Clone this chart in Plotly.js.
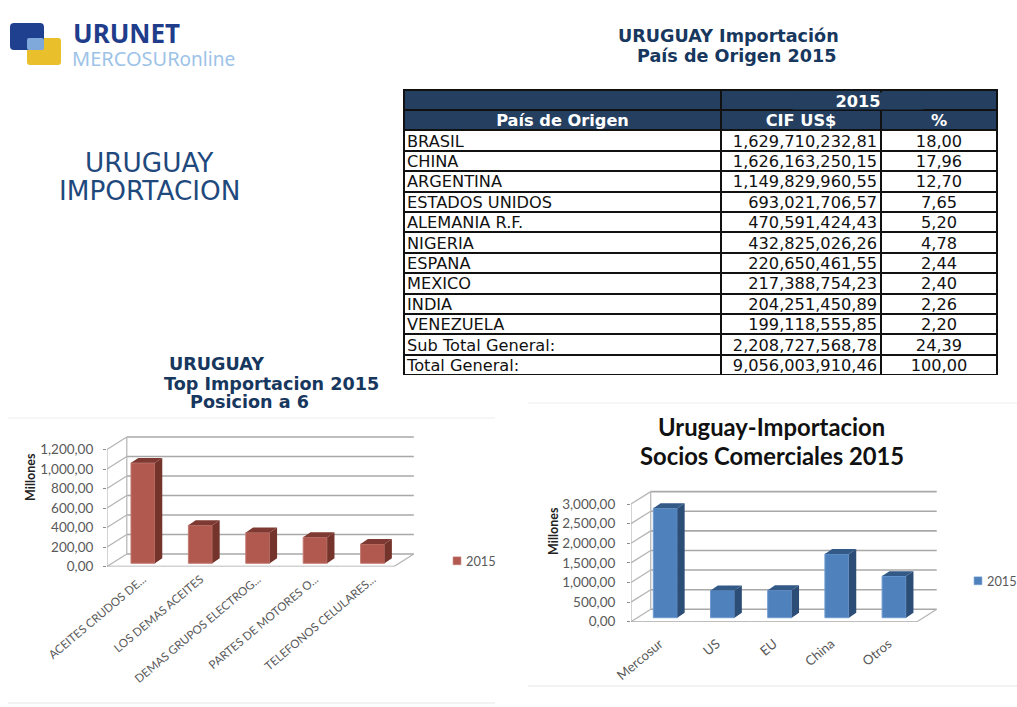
<!DOCTYPE html>
<html><head><meta charset="utf-8">
<script src="https://cdn.plot.ly/plotly-3.0.1.min.js"></script>
<style>
html,body{margin:0;padding:0;background:#fff}
#c{width:1017px;height:707px}
.y-column:nth-child(3) .cell-text{translate:-5px -4px}
.y-column:nth-child(4) .cell-text{translate:4px -4px}
.y-column:nth-child(5) .cell-text{translate:0 -4px}
.y-column .column-cell:first-child .cell-text{translate:0 -4px}
.legend .legendpoints path,.legend2 .legendpoints path{scale:.65;translate:18px 0}
</style></head><body><div id="c"></div>
<script>
// ---------- DATA ----------
var paises = ["BRASIL","CHINA","ARGENTINA","ESTADOS UNIDOS","ALEMANIA R.F.","NIGERIA","ESPANA","MEXICO","INDIA","VENEZUELA","Sub Total General:","Total General:"];
var cif = ["1,629,710,232,81","1,626,163,250,15","1,149,829,960,55","693,021,706,57","470,591,424,43","432,825,026,26","220,650,461,55","217,388,754,23","204,251,450,89","199,118,555,85","2,208,727,568,78","9,056,003,910,46"];
var pct = ["18,00","17,96","12,70","7,65","5,20","4,78","2,44","2,40","2,26","2,20","24,39","100,00"];
var catsTop = ["ACEITES CRUDOS DE...","LOS DEMAS ACEITES","DEMAS GRUPOS ELECTROG...","PARTES DE MOTORES O...","TELEFONOS CELULARES..."];
var valsTop = [1030,390,315,267,198];
var tickValsTop = [0,200,400,600,800,1000,1200];
var tickTextTop = ["0,00","200,00","400,00","600,00","800,00","1,000,00","1,200,00"];
var catsSoc = ["Mercosur","US","EU","China","Otros"];
var valsSoc = [2790,693,700,1626,1060];
var tickValsSoc = [0,500,1000,1500,2000,2500,3000];
var tickTextSoc = ["0,00","500,00","1,000,00","1,500,00","2,000,00","2,500,00","3,000,00"];

// ---------- helpers ----------
var W = 1017, H = 707;
function fx(p){return p/W;}
function fy(p){return 1-p/H;}
var TITLE = "#17375e", TICK = "#595959", GRID = "#a8a8a8";

function note(text,x,y,size,family,color,anchor,extra){
  var a = {text:text,xref:"paper",yref:"paper",x:fx(x),y:fy(y),xanchor:anchor||"left",yanchor:"middle",
    showarrow:false,font:{size:size,family:family,color:color},borderpad:0};
  if(extra){for(var k in extra)a[k]=extra[k];}
  return a;
}
function rrect(x0,y0,x1,y1,r,color){
  function X(v){return fx(v).toFixed(5);} function Y(v){return fy(v).toFixed(5);}
  return {type:"path",xref:"paper",yref:"paper",fillcolor:color,line:{width:0},layer:"above",
    path:"M"+X(x0+r)+","+Y(y0)+"L"+X(x1-r)+","+Y(y0)+"Q"+X(x1)+","+Y(y0)+" "+X(x1)+","+Y(y0+r)+
         "L"+X(x1)+","+Y(y1-r)+"Q"+X(x1)+","+Y(y1)+" "+X(x1-r)+","+Y(y1)+
         "L"+X(x0+r)+","+Y(y1)+"Q"+X(x0)+","+Y(y1)+" "+X(x0)+","+Y(y1-r)+
         "L"+X(x0)+","+Y(y0+r)+"Q"+X(x0)+","+Y(y0)+" "+X(x0+r)+","+Y(y0)+"Z"};
}
function hline(x0,x1,y,color){
  return {type:"line",xref:"paper",yref:"paper",x0:fx(x0),x1:fx(x1),y0:fy(y),y1:fy(y),line:{color:color,width:2},layer:"below"};
}

// 3-D look of one chart: wall lines, floor, side and top faces, all in data units
function chart3d(o){
  var xa=o.xa, ya=o.ya, shapes=[], top={x:[],y:[]}, side={x:[],y:[]};
  function ln(x0,y0,x1,y1,w,c){shapes.push({type:"line",xref:xa,yref:ya,x0:x0,y0:y0,x1:x1,y1:y1,layer:"below",line:{color:c||GRID,width:w||1.6}});}
  var L=-0.5, R=o.vals.length-0.5;
  o.ticks.forEach(function(t){
    ln(L+o.depthX,t+o.depthY,R+o.depthX,t+o.depthY);
    ln(L,t,L+o.depthX,t+o.depthY,1.3,"#b5b5b5");
  });
  ln(L,0,L,o.ticks[o.ticks.length-1],1.2,"#b5b5b5");
  ln(L+o.depthX,o.depthY,L+o.depthX,o.ticks[o.ticks.length-1]+o.depthY,1.2,"#b5b5b5");
  ln(L,0,R,0,1.5);
  ln(R,0,R+o.depthX,o.depthY,1.3,"#b5b5b5");
  for(var i=0;i<=o.vals.length;i++) ln(L+i,0,L+i,-o.tickLen,1,"#8c8c8c");
  o.vals.forEach(function(v,i){
    var a=i+o.off-o.w/2, b=i+o.off+o.w/2, y0=o.base, y1=o.base+v, dx=o.faceX, dy=o.faceY;
    side.x.push(b,b+dx,b+dx,b,b,null); side.y.push(y0,y0+dy,y1+dy,y1,y0,null);
    top.x.push(a,a+dx,b+dx,b,a,null); top.y.push(y1,y1+dy,y1+dy,y1,y1,null);
  });
  var xs=o.vals.map(function(_,i){return i+o.off;});
  var traces=[
    {type:"bar",name:"2015",x:xs,y:o.vals,base:o.vals.map(function(){return o.base;}),width:o.w,xaxis:xa,yaxis:ya,
      marker:{color:o.front,line:{color:o.edge,width:1}},legend:o.legend,showlegend:true,customdata:o.cats,hovertemplate:"%{customdata}: %{y}<extra></extra>"},
    {type:"scatter",mode:"lines",x:side.x,y:side.y,fill:"toself",fillcolor:o.sideC,line:{width:0,color:o.sideC},xaxis:xa,yaxis:ya,showlegend:false,hoverinfo:"skip"},
    {type:"scatter",mode:"lines",x:top.x,y:top.y,fill:"toself",fillcolor:o.topC,line:{width:0,color:o.topC},xaxis:xa,yaxis:ya,showlegend:false,hoverinfo:"skip"}
  ];
  return {traces:traces,shapes:shapes};
}

var chA = chart3d({xa:"x",ya:"y",vals:valsTop,cats:catsTop,ticks:tickValsTop,depthX:0.345,depthY:128,off:0.127,w:0.418,base:33,
  faceX:0.127,faceY:51,tickLen:30,front:"#b1594f",edge:"#c27a71",sideC:"#74342c",topC:"#7e3a32",legend:"legend"});
var chB = chart3d({xa:"x2",ya:"y2",vals:valsSoc,cats:catsSoc,ticks:tickValsSoc,depthX:0.345,depthY:316,off:0.1,w:0.42,base:102,
  faceX:0.128,faceY:127,tickLen:75,front:"#4f81bd",edge:"#6f9ad0",sideC:"#2c4d75",topC:"#335a87",legend:"legend2"});

// ---------- table ----------
var dark="#243f60";
function perRow(first,rest){var a=[first];paises.forEach(function(){a.push(rest);});return a;}
function perCol(first,rest){return [perRow(first,rest),perRow(first,rest),perRow(first,rest)];}
var table = {type:"table",domain:{x:[fx(404),fx(997)],y:[fy(375.5),fy(90)]},columnwidth:[317,160,116],
  header:{values:["","",""],height:20,fill:{color:dark},line:{color:"#111",width:2},font:{size:15,family:"DejaVu Sans",color:"#fff"}},
  cells:{values:[["País de Origen"].concat(paises),["CIF US$"].concat(cif),["%"].concat(pct)],
    height:20.4,fill:{color:perCol(dark,"#ffffff")},
    line:{color:"#111",width:2},align:[perRow("center","left"),perRow("center","right"),perRow("center","center")],
    font:{size:16.2,family:"DejaVu Sans",color:perCol("#ffffff","#111111"),weight:perCol(700,400)}}};

// ---------- layout ----------
function axisX(dom,rng,anchor,cats,off,size,standoff){
  return {domain:dom,range:rng,anchor:anchor,tickmode:"array",tickvals:cats.map(function(_,i){return i+off;}),ticktext:cats,
    tickangle:-40,ticks:"",showgrid:false,zeroline:false,showline:false,tickfont:{family:"Lato",size:size,color:TICK},automargin:false,ticklabelstandoff:standoff};
}
function axisY(dom,rng,anchor,tv,tt,standoff){
  return {domain:dom,range:rng,anchor:anchor,tickmode:"array",tickvals:tv,ticktext:tt,ticks:"outside",ticklen:3,tickcolor:"#8c8c8c",
    showgrid:false,zeroline:false,showline:false,tickfont:{family:"Lato",size:13.5,color:TICK},automargin:false,ticklabelstandoff:standoff};
}
var legendCommon = {orientation:"v",bgcolor:"rgba(0,0,0,0)",borderwidth:0,itemwidth:30,font:{family:"Lato",size:12.8,color:TICK},yanchor:"middle",xanchor:"left"};
function mix(a,b){var r={};for(var k in a)r[k]=a[k];for(var j in b)r[j]=b[j];return r;}

var F="DejaVu Sans", T="Lato";
var annotations=[
  note("<b>URUNET</b>",72,33,26,"Noto Sans","#1f3d8b","left",{height:26}),
  note("MERCOSUR<span style='font-size:19px'>online</span>",71,58,20,"Noto Sans","#9dc3e8","left",{height:20}),
  note("URUGUAY",149.5,163,26.3,F,"#1f497d","center"),
  note("IMPORTACION",149.5,191,26.3,F,"#1f497d","center"),
  note("<b>URUGUAY Importación</b>",617,36,17.6,F,TITLE),
  note("<b>País de Origen 2015</b>",636,56,17.6,F,TITLE),
  note("<b>URUGUAY</b>",168,364,17.6,F,TITLE),
  note("<b>Top Importacion 2015</b>",163,384,17.6,F,TITLE),
  note("<b>Posicion a 6</b>",189,402,17.6,F,TITLE),
  note("<b>Uruguay-Importacion</b>",771.5,427,23.8,T,"#111","center"),
  note("<b>Socios Comerciales 2015</b>",771.5,456,23.8,T,"#111","center"),
  note("<b>2015</b>",858,101,16.2,F,"#fff","center",{bgcolor:dark,width:130,height:16}),
  note("<b>Millones</b>",30,477,12.5,T,"#222","center",{textangle:-90}),
  note("<b>Millones</b>",553,531,12.5,T,"#222","center",{textangle:-90})
];
var extra=[
  hline(8,495,418,"#f6f6f6"),hline(8,495,703,"#f2f2f2"),hline(528,1017,403,"#f6f6f6"),hline(528,1017,686,"#f2f2f2"),
  rrect(27,38,61,65,3,"#e9bf2b"),rrect(10,23,44,50,4,"#1f3f8f"),rrect(27,38,44,50,2,"#7fa9da")
];

var layout={width:W,height:H,autosize:false,margin:{l:0,r:0,t:0,b:0,autoexpand:false},paper_bgcolor:"#fff",plot_bgcolor:"rgba(0,0,0,0)",
  barmode:"overlay",hovermode:"closest",annotations:annotations,shapes:extra.concat(chA.shapes,chB.shapes),
  xaxis:axisX([fx(107),fx(421)],[-0.5,-0.5+(421-107)/57.4],"y",catsTop,0.13,11.6,3),
  yaxis:axisY([fy(566.5),fy(430)],[0,(566.5-430)/0.0975],"x",tickValsTop,tickTextTop,7),
  xaxis2:axisX([fx(631),fx(941)],[-0.5,-0.5+(941-631)/57.2],"y2",catsSoc,0.0,13.2,11),
  yaxis2:axisY([fy(621.7),fy(485)],[0,(621.7-485)/0.03923],"x2",tickValsSoc,tickTextSoc,9),
  legend:mix(legendCommon,{x:fx(426),y:fy(561)}),
  legend2:mix(legendCommon,{x:fx(947),y:fy(581)})
};
Plotly.newPlot("c",chA.traces.concat(chB.traces,[table]),layout,{displayModeBar:false});
</script></body></html>
